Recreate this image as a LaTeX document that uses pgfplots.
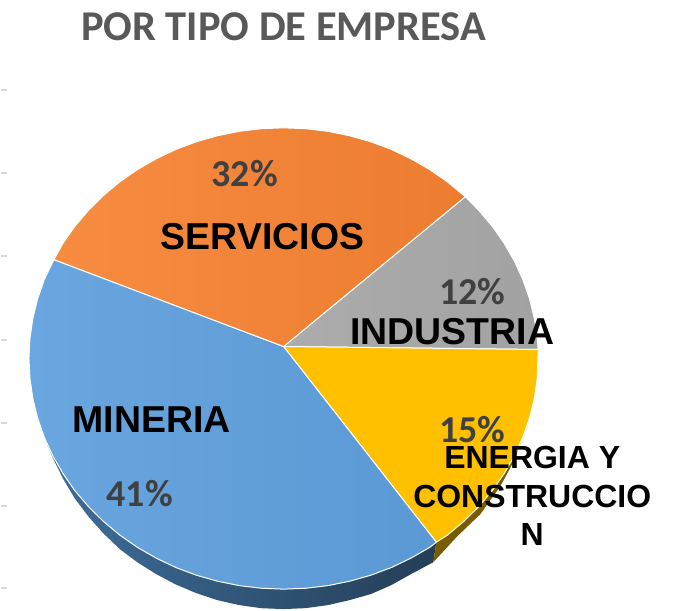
\documentclass[border=0pt]{standalone}
\usepackage{fontspec}
\setmainfont{Liberation Sans}
\newfontfamily\carl{Carlito}
\usepackage{pgfplots}
\pgfplotsset{compat=1.18}
\definecolor{titlegray}{HTML}{595959}
\definecolor{pctgray}{HTML}{404040}
\definecolor{tickgray}{HTML}{D9D9D9}
\begin{document}
\begin{tikzpicture}
\begin{axis}[
  at={(0,0)}, anchor=south west,
  width=679pt, height=611pt, scale only axis,
  xmin=0, xmax=679, ymin=0, ymax=611, y dir=reverse,
  axis lines=none,
  clip=false,
  every axis plot/.append style={line join=round},
]
% page
\addplot[fill=white, draw=none, forget plot] coordinates {(0,0)(679,0)(679,611)(0,611)(0,0)};
% tick stubs of the cropped value axis
\addplot[tickgray, line width=2pt, forget plot] coordinates {(0,90)(6.5,90)};
\addplot[tickgray, line width=2pt, forget plot] coordinates {(0,173)(6.5,173)};
\addplot[tickgray, line width=2pt, forget plot] coordinates {(0,256)(6.5,256)};
\addplot[tickgray, line width=2pt, forget plot] coordinates {(0,340)(6.5,340)};
\addplot[tickgray, line width=2pt, forget plot] coordinates {(0,424)(6.5,424)};
\addplot[tickgray, line width=2pt, forget plot] coordinates {(0,507)(6.5,507)};
\addplot[tickgray, line width=2pt, forget plot] coordinates {(0,589)(6.5,589)};
% side of MINERIA
\addplot[draw=none, forget plot, left color={rgb,255:red,62;green,110;blue,155}, middle color={rgb,255:red,36;green,62;blue,86}, right color={rgb,255:red,36;green,62;blue,86}] coordinates {
(43.4,438)(51.9,458.6)(62.2,479.5)(74.1,499.5)(87.7,517.5)(102.7,534.3)(119.1,550)(136.7,563.2)(155.5,575)(175.2,585.4)(195.8,594.1)(217,601.1)(238.7,606)(260.8,609.1)(283,610)(305.2,609)(327.3,606)(349,601)(370.2,595)(390.8,586)(410.5,575)(433,563)(436,543)(283,400)(43.4,438)};
% side of ENERGIA
\addplot[draw=none, fill={rgb,255:red,122;green,92;blue,0}, forget plot] coordinates {
(433,563)(457,537)(480,515)(500,487)(513,463)(522,440)(514,440)(436,543)(433,563)};
% INDUSTRIA
\addplot[draw=white, line width=1pt, left color={rgb,255:red,172;green,172;blue,172}, right color={rgb,255:red,162;green,162;blue,162}] coordinates {
(283,347)(465,197)(478.3,210.5)(491.9,226.5)(503.8,243.5)(514.1,261.4)(522.6,280)(529.3,299.2)(534.1,318.9)(537,338.9)(538,350)(283,347)};
% ENERGIA Y CONSTRUCCION
\addplot[draw=white, line width=1pt, fill={rgb,255:red,255;green,192;blue,0}] coordinates {
(283,347)(538,350)(537,379.1)(534.1,399.1)(529.3,418.8)(522.6,438)(514.1,456.6)(503.8,474.5)(491.9,491.5)(478.3,507.5)(463.3,522.3)(446.9,536)(436,543)(283,347)};
% MINERIA
\addplot[draw=white, line width=1pt, left color={rgb,255:red,106;green,166;blue,224}, right color={rgb,255:red,90;green,153;blue,212}] coordinates {
(283,347)(436,543)(429.3,548.2)(410.5,559)(390.8,568.4)(370.2,576.1)(349,582.1)(327.3,586.5)(305.2,589.1)(283,590)(260.8,589.1)(238.7,586.5)(217,582.1)(195.8,576.1)(175.2,568.4)(155.5,559)(136.7,548.2)(119.1,536)(102.7,522.3)(87.7,507.5)(74.1,491.5)(62.2,474.5)(51.9,456.6)(43.4,438)(36.7,418.8)(31.9,399.1)(29,379.1)(28,359)(29,338.9)(31.9,318.9)(36.7,299.2)(43.4,280)(53,260)(283,347)};
% SERVICIOS
\addplot[draw=white, line width=1pt, left color={rgb,255:red,247;green,140;blue,65}, right color={rgb,255:red,236;green,124;blue,48}] coordinates {
(283,347)(53,260)(62.2,243.5)(74.1,226.5)(87.7,210.5)(102.7,195.7)(119.1,182)(136.7,169.8)(155.5,159)(175.2,149.6)(195.8,141.9)(217,135.9)(238.7,131.5)(260.8,128.9)(283,128)(305.2,128.9)(327.3,131.5)(349,135.9)(370.2,141.9)(390.8,149.6)(410.5,159)(429.3,169.8)(446.9,182)(465,197)(283,347)};
% title and labels
\node[font=\carl\bfseries\fontsize{42.5}{42.5}\selectfont, text=titlegray, anchor=center] at (axis cs:283,27) {POR TIPO DE EMPRESA};
\node[font=\carl\bfseries\fontsize{38}{38}\selectfont, text=pctgray] at (axis cs:244,174) {32\%};
\node[font=\carl\bfseries\fontsize{38}{38}\selectfont, text=pctgray] at (axis cs:472,292) {12\%};
\node[font=\carl\bfseries\fontsize{38}{38}\selectfont, text=pctgray] at (axis cs:472,430) {15\%};
\node[font=\carl\bfseries\fontsize{38}{38}\selectfont, text=pctgray] at (axis cs:139,494) {41\%};
\node[font=\bfseries\fontsize{37.5}{37.5}\selectfont] at (axis cs:262,237) {SERVICIOS};
\node[font=\bfseries\fontsize{37.5}{37.5}\selectfont] at (axis cs:452,332) {INDUSTRIA};
\node[font=\bfseries\fontsize{37.5}{37.5}\selectfont] at (axis cs:151,420) {MINERIA};
\node[font=\bfseries\fontsize{32}{32}\selectfont] at (axis cs:532,458) {ENERGIA Y};
\node[font=\bfseries\fontsize{32}{32}\selectfont] at (axis cs:532,497) {CONSTRUCCIO};
\node[font=\bfseries\fontsize{32}{32}\selectfont] at (axis cs:532,535) {N};
\end{axis}
\end{tikzpicture}
\end{document}
